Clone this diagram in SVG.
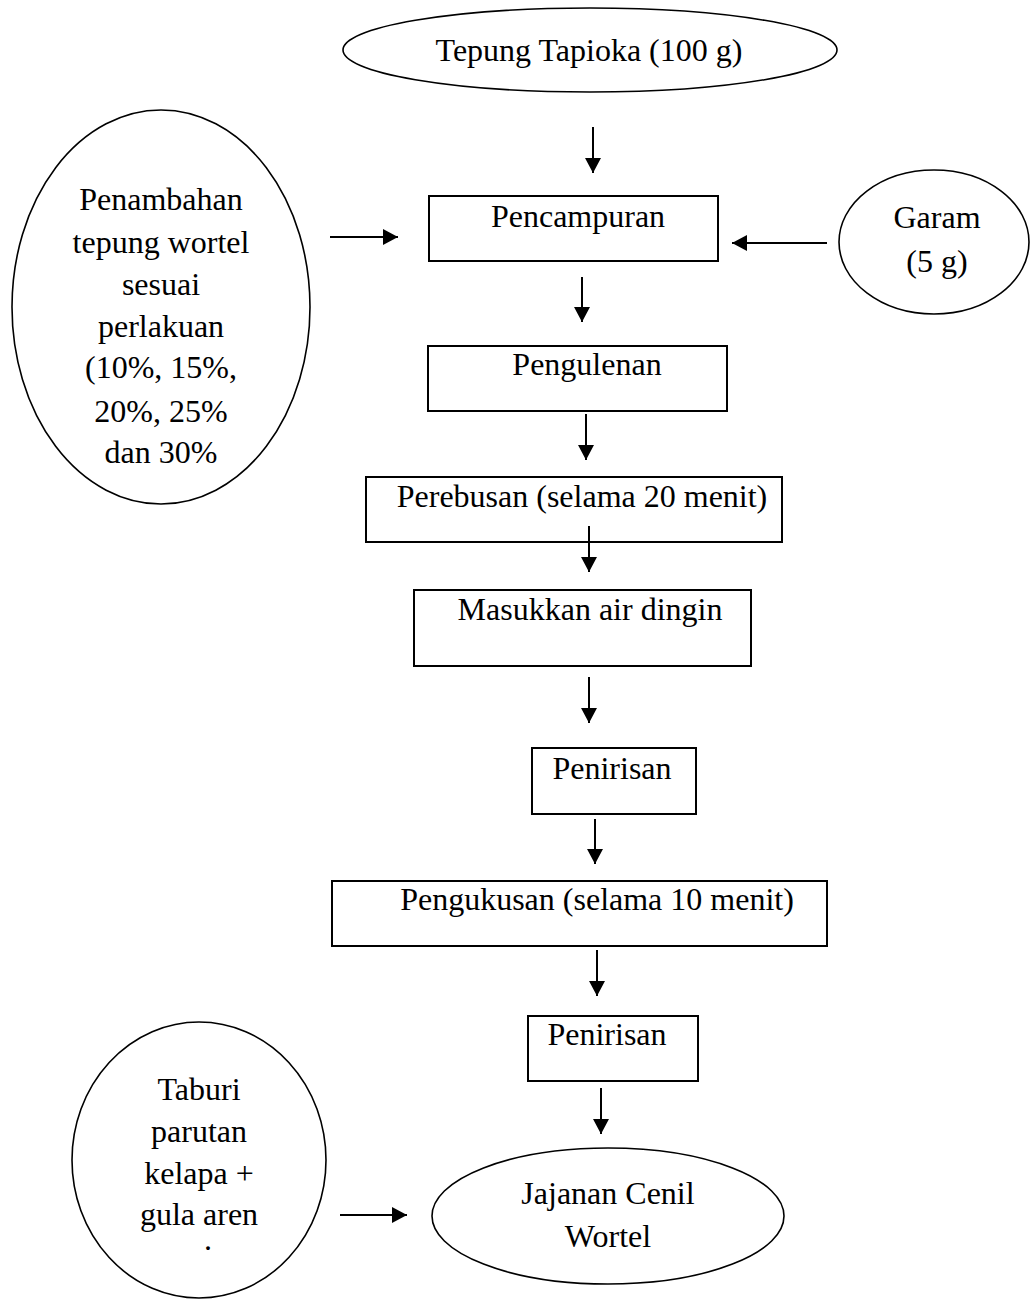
<svg xmlns="http://www.w3.org/2000/svg" width="1030" height="1300" viewBox="0 0 1030 1300">
<style>
  .box { fill: #fff; stroke: #000; stroke-width: 2; }
  .ell { fill: #fff; stroke: #000; stroke-width: 1.6; }
  .t { font-family: "Liberation Serif", "Times New Roman", serif; font-size: 32px; fill: #000; text-anchor: middle; }
  .arr { stroke: #000; stroke-width: 2; fill: none; marker-end: url(#ah); }
</style>
<defs>
  <marker id="ah" markerUnits="userSpaceOnUse" markerWidth="16" markerHeight="18" refX="15" refY="8" orient="auto">
    <path d="M0,0 L15,8 L0,16 Z" fill="#000"/>
  </marker>
</defs>
<rect width="1030" height="1300" fill="#fff"/>

<g id="n-tapioka">
  <ellipse class="ell" cx="590" cy="50" rx="247" ry="42"/>
  <text class="t" x="589" y="61">Tepung Tapioka (100 g)</text>
</g>
<g id="n-penambahan">
  <ellipse class="ell" cx="161" cy="307" rx="149" ry="197"/>
  <text class="t" x="161" y="210">Penambahan</text>
  <text class="t" x="161" y="253">tepung wortel</text>
  <text class="t" x="161" y="295">sesuai</text>
  <text class="t" x="161" y="337">perlakuan</text>
  <text class="t" x="161" y="378">(10%, 15%,</text>
  <text class="t" x="161" y="422">20%, 25%</text>
  <text class="t" x="161" y="463">dan 30%</text>
</g>
<g id="n-pencampuran">
  <rect class="box" x="429" y="196" width="289" height="65"/>
  <text class="t" x="578" y="227">Pencampuran</text>
</g>
<g id="n-garam">
  <ellipse class="ell" cx="934" cy="242" rx="95" ry="72"/>
  <text class="t" x="937" y="228">Garam</text>
  <text class="t" x="937" y="272">(5 g)</text>
</g>
<g id="n-pengulenan">
  <rect class="box" x="428" y="346" width="299" height="65"/>
  <text class="t" x="587" y="375">Pengulenan</text>
</g>
<g id="n-perebusan">
  <rect class="box" x="366" y="477" width="416" height="65"/>
  <text class="t" x="582" y="507">Perebusan (selama 20 menit)</text>
</g>
<g id="n-masukkan">
  <rect class="box" x="414" y="590" width="337" height="76"/>
  <text class="t" x="590" y="620">Masukkan air dingin</text>
</g>
<g id="n-penirisan1">
  <rect class="box" x="532" y="748" width="164" height="66"/>
  <text class="t" x="612" y="779">Penirisan</text>
</g>
<g id="n-pengukusan">
  <rect class="box" x="332" y="881" width="495" height="65"/>
  <text class="t" x="597" y="910">Pengukusan (selama 10 menit)</text>
</g>
<g id="n-penirisan2">
  <rect class="box" x="528" y="1016" width="170" height="65"/>
  <text class="t" x="607" y="1045">Penirisan</text>
</g>
<g id="n-taburi">
  <ellipse class="ell" cx="199" cy="1160" rx="127" ry="138"/>
  <text class="t" x="199" y="1100">Taburi</text>
  <text class="t" x="199" y="1142">parutan</text>
  <text class="t" x="199" y="1184">kelapa +</text>
  <text class="t" x="199" y="1225">gula aren</text>
  <text class="t" x="208" y="1250">.</text>
</g>
<g id="n-jajanan">
  <ellipse class="ell" cx="608" cy="1216" rx="176" ry="68"/>
  <text class="t" x="608" y="1204">Jajanan Cenil</text>
  <text class="t" x="608" y="1247">Wortel</text>
</g>

<g id="connectors">
  <line class="arr" x1="593" y1="127" x2="593" y2="173"/>
  <line class="arr" x1="330" y1="237" x2="398" y2="237"/>
  <line class="arr" x1="827" y1="243" x2="732" y2="243"/>
  <line class="arr" x1="582" y1="277" x2="582" y2="322"/>
  <line class="arr" x1="586" y1="414" x2="586" y2="460"/>
  <line class="arr" x1="589" y1="526" x2="589" y2="572"/>
  <line class="arr" x1="589" y1="677" x2="589" y2="723"/>
  <line class="arr" x1="595" y1="819" x2="595" y2="864"/>
  <line class="arr" x1="597" y1="950" x2="597" y2="996"/>
  <line class="arr" x1="601" y1="1088" x2="601" y2="1134"/>
  <line class="arr" x1="340" y1="1215" x2="407" y2="1215"/>
</g>
</svg>
